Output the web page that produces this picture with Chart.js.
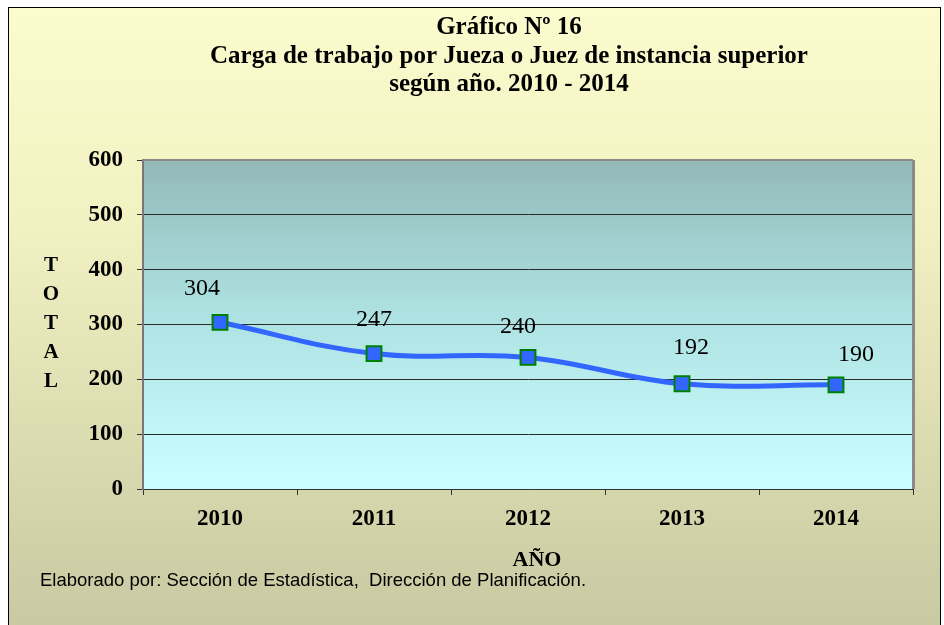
<!DOCTYPE html>
<html>
<head>
<meta charset="utf-8">
<script src="https://cdn.jsdelivr.net/npm/chart.js@4/dist/chart.umd.min.js"></script>
<style>
html,body{margin:0;padding:0;background:#fff;}
#wrap{width:944px;height:625px;}
</style>
</head>
<body>
<div id="wrap"><canvas id="c" width="944" height="625"></canvas></div>
<script>
const categories = ['2010', '2011', '2012', '2013', '2014'];
const values = [304, 247, 240, 192, 190];
const titleLines = ['Gráfico Nº 16', 'Carga de trabajo por Jueza o Juez de instancia superior', 'según año. 2010 - 2014'];
const yTitleLetters = ['T', 'O', 'T', 'A', 'L'];
const xTitle = 'AÑO';
const footer = 'Elaborado por: Sección de Estadística,  Dirección de Planificación.';
const yMin = 0, yMax = 600, yStep = 100;
// label placement offsets (px) relative to each point
const labelDx = [-18, 0, -10, 9, 20];
const labelDy = [-34, -33.5, -31, -36.5, -30];

const SERIF = "'Liberation Serif', 'Times New Roman', serif";

const decor = {
  id: 'decor',
  beforeDraw(chart) {
    const ctx = chart.ctx;
    const W = chart.width, H = chart.height;
    ctx.save();
    ctx.fillStyle = '#ffffff';
    ctx.fillRect(0, 0, W, H);
    const g = ctx.createLinearGradient(0, 8, 0, H);
    g.addColorStop(0, '#fbfbcd');
    g.addColorStop(0.35, '#f1f1c2');
    g.addColorStop(1, '#c9c9a2');
    ctx.fillStyle = g;
    ctx.fillRect(8, 7, 932, H);
    ctx.strokeStyle = '#000';
    ctx.lineWidth = 1;
    ctx.strokeRect(8.5, 7.5, 932, H + 10);
    const a = chart.chartArea;
    const pg = ctx.createLinearGradient(0, a.top, 0, a.bottom);
    pg.addColorStop(0, '#93b9b9');
    pg.addColorStop(0.45, '#ade0e0');
    pg.addColorStop(1, '#ccffff');
    ctx.fillStyle = pg;
    ctx.fillRect(a.left, a.top, a.right - a.left, a.bottom - a.top);
    ctx.restore();
  },
  beforeDatasetsDraw(chart) {
    const ctx = chart.ctx, a = chart.chartArea;
    ctx.save();
    ctx.strokeStyle = '#8a8a8a';
    ctx.lineWidth = 2;
    ctx.beginPath();
    ctx.moveTo(a.left, a.top);
    ctx.lineTo(a.right, a.top);
    ctx.stroke();
    ctx.lineWidth = 3;
    ctx.beginPath();
    ctx.moveTo(a.right + 0.5, a.top);
    ctx.lineTo(a.right + 0.5, a.bottom);
    ctx.stroke();
    ctx.restore();
  },
  afterDraw(chart) {
    const ctx = chart.ctx;
    ctx.save();
    ctx.fillStyle = '#000';
    ctx.textAlign = 'center';
    ctx.textBaseline = 'middle';
    ctx.font = 'bold 25px ' + SERIF;
    const ty = [28, 57, 85];
    titleLines.forEach((t, i) => ctx.fillText(t, 509, ty[i]));
    ctx.font = 'bold 21px ' + SERIF;
    yTitleLetters.forEach((t, i) => ctx.fillText(t, 51, 266 + i * 29));
    ctx.font = 'bold 22px ' + SERIF;
    ctx.fillText(xTitle, 537, 560);
    ctx.textAlign = 'left';
    ctx.font = '18.5px "Liberation Sans", Arial, sans-serif';
    ctx.fillText(footer, 40, 581);
    // data labels
    const meta = chart.getDatasetMeta(0);
    ctx.textAlign = 'center';
    ctx.font = '24px ' + SERIF;
    meta.data.forEach((pt, i) => {
      ctx.fillText(String(values[i]), pt.x + labelDx[i], pt.y + labelDy[i]);
    });
    ctx.restore();
  }
};

new Chart(document.getElementById('c'), {
  type: 'line',
  data: {
    labels: categories,
    datasets: [{
      data: values,
      borderColor: '#3366ff',
      borderWidth: 5,
      tension: 0.4,
      pointStyle: 'rect',
      pointRadius: 10.5,
      pointHoverRadius: 10.5,
      pointBackgroundColor: '#3366ff',
      pointBorderColor: '#008000',
      pointBorderWidth: 2
    }]
  },
  options: {
    responsive: false,
    animation: false,
    events: [],
    layout: { padding: { left: 0, top: 160, right: 31, bottom: 0 } },
    plugins: { legend: { display: false }, tooltip: { enabled: false }, title: { display: false } },
    scales: {
      x: {
        offset: true,
        afterFit(s) { s.height = 136; },
        grid: { offset: true, drawOnChartArea: false, drawTicks: true, tickLength: 6, color: '#333', lineWidth: 1 },
        border: { color: '#333', width: 1 },
        ticks: { color: '#000', padding: 10, font: { family: SERIF, size: 23, weight: 'bold' } }
      },
      y: {
        min: yMin, max: yMax,
        afterFit(s) { s.width = 143; },
        grid: {
          color: (c) => (c.tick && c.tick.value === yMax) ? 'rgba(0,0,0,0)' : '#2a2a2a',
          tickColor: '#333', lineWidth: 1, tickLength: 6
        },
        border: { color: '#777', width: 2 },
        ticks: { stepSize: yStep, color: '#000', padding: 14, font: { family: SERIF, size: 23, weight: 'bold' } }
      }
    }
  },
  plugins: [decor]
});
</script>
</body>
</html>
